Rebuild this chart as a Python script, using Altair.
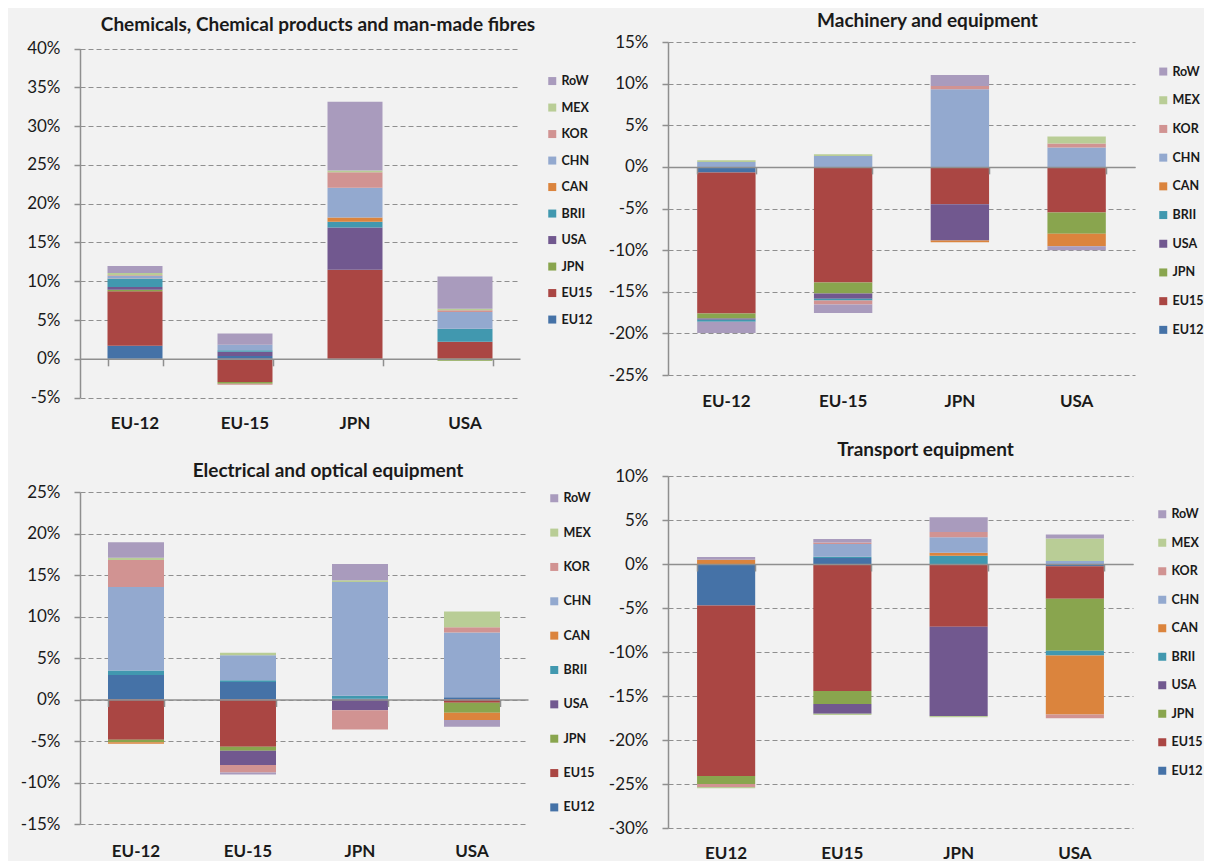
import altair as alt
import pandas as pd

SERIES = ["EU12", "EU15", "JPN", "USA", "BRII", "CAN", "CHN", "KOR", "MEX", "RoW"]
COLORS = ["#4572A7", "#AA4643", "#89A54E", "#71588F", "#4198AF",
          "#DB843D", "#93A9CF", "#D19392", "#B9CD96", "#A99BBD"]

DEST_A = ["EU-12", "EU-15", "JPN", "USA"]
DEST_B = ["EU12", "EU15", "JPN", "USA"]

# values in % (order of SERIES), one list per destination bar
chem_eu12 = [1.7, 7.0, 0.2, 0.35, 1.07, 0.05, 0.3, 0.1, 0.3, 0.9]
chem_eu15 = [0.35, -3.0, -0.2, 0.55, 0.2, 0.0, 0.7, -0.15, 0.0, 1.45]
chem_jpn = [0.0, 11.47, 0.0, 5.47, 0.73, 0.56, 3.84, 1.98, 0.22, 8.88]
chem_usa = [0.0, 2.2, -0.25, 0.0, 1.68, 0.0, 2.16, 0.22, 0.2, 4.14]

mach_eu12 = [-0.68, -16.92, -0.6, -0.16, -0.24, 0.0, 0.6, 0.0, 0.2, -1.36]
mach_eu15 = [0.0, -13.88, -1.32, -0.64, -0.2, 0.0, 1.32, -0.48, 0.2, -1.04]
mach_jpn = [0.0, -4.48, 0.0, -4.36, 0.0, -0.2, 9.32, 0.4, 0.0, 1.32]
mach_usa = [0.0, -5.48, -2.56, 0.0, 0.0, -1.48, 2.32, 0.48, 0.84, -0.48]

elec_eu12 = [2.96, -4.84, -0.32, 0.0, 0.52, -0.16, 10.08, 3.24, 0.28, 1.88]
elec_eu15 = [2.12, -5.68, -0.48, -1.72, 0.2, 0.0, 3.0, -0.92, 0.32, -0.24]
elec_jpn = [0.1, 0.0, 0.0, -1.29, 0.34, 0.0, 13.73, -2.33, 0.2, 1.97]
elec_usa = [0.28, -0.4, -1.2, 0.0, 0.0, -0.88, 7.79, 0.64, 1.89, -0.8]

tran_eu12 = [-4.73, -19.36, -0.91, 0.0, 0.0, 0.49, 0.0, -0.34, -0.15, 0.3]
tran_eu15 = [0.68, -14.43, -1.48, -1.1, 0.15, 0.0, 1.43, 0.19, -0.15, 0.38]
tran_jpn = [0.0, -7.12, 0.0, -10.15, 0.94, 0.34, 1.77, 0.6, -0.15, 1.66]
tran_usa = [-0.25, -3.7, -5.91, 0.0, -0.53, -6.7, 0.34, -0.45, 2.57, 0.45]

GRID = "#8f8f8f"
TEXT = "#1a1a1a"
BG = "#F2F2F2"
FONT = "Lato"


def panel(title, dests, rows, ymin, ymax, w, h, t_off, t_dx, min_ext,
          lx, ly, rpad, xlab_pad=18, top_pad=0.0):
    recs = []
    for d, vals in zip(dests, rows):
        for i, (s, v) in enumerate(zip(SERIES, vals)):
            recs.append({"dest": d, "series": s, "ord": i, "value": v})
    df = pd.DataFrame(recs)
    ticks = list(range(ymin, ymax + 1, 5))
    view_h = h + top_pad
    xscale = alt.Scale(domain=dests, paddingInner=0.5, paddingOuter=0.25)
    yscale = alt.Scale(domain=[ymin, ymax], nice=False, zero=False,
                       range=[view_h, top_pad])

    bars = alt.Chart(df).mark_bar().encode(
        x=alt.X("dest:N", scale=xscale,
                axis=alt.Axis(title=None, labelAngle=0, domain=False, ticks=False,
                              tickSize=0, labelPadding=xlab_pad, labelFontSize=17,
                              labelFontWeight="bold", labelColor=TEXT, labelFont=FONT,
                              grid=False)),
        y=alt.Y("value:Q", stack="zero", scale=yscale,
                axis=alt.Axis(title=None, values=ticks, labelExpr="datum.value + '%'",
                              grid=True, gridDash=[5, 3], gridColor=GRID, gridWidth=1.2,
                              domainColor=GRID, domainWidth=1.5, tickColor=GRID,
                              tickSize=6, tickWidth=1.5, labelPadding=14,
                              labelFontSize=17, labelColor=TEXT, labelFont=FONT,
                              minExtent=min_ext)),
        color=alt.Color("series:N",
                        scale=alt.Scale(domain=SERIES[::-1], range=COLORS[::-1]),
                        legend=alt.Legend(title=None, orient="none", legendX=lx, legendY=ly,
                                          symbolType="square", symbolSize=64,
                                          symbolStrokeWidth=0, labelFontSize=12.5,
                                          labelFontWeight="bold", labelColor=TEXT,
                                          labelFont=FONT, rowPadding=rpad, labelOffset=3,
                                          padding=0)),
        order=alt.Order("ord:Q", sort="ascending"),
    )

    zoff = h * (0 - ymin) / (ymax - ymin)
    zero = alt.Chart(pd.DataFrame({"dest": dests})).mark_point(opacity=0).encode(
        x=alt.X("dest:N", scale=xscale,
                axis=alt.Axis(orient="bottom", offset=-zoff, labels=False, title=None,
                              domain=True, domainColor=GRID, domainWidth=1.5,
                              ticks=True, tickBand="extent", tickSize=7, tickColor=GRID,
                              tickWidth=1.5, grid=False, zindex=1)),
    )

    return alt.layer(bars, zero).resolve_axis(x="independent").properties(
        width=w, height=view_h,
        title=alt.TitleParams(text=title, fontSize=19, fontWeight="bold", color=TEXT,
                              font=FONT, offset=t_off, dx=t_dx, anchor="middle",
                              frame="group"),
    )


p1 = panel("Chemicals, Chemical products and man-made fibres", DEST_A,
           [chem_eu12, chem_eu15, chem_jpn, chem_usa], -5, 40,
           440, 349, 4.5, 18, 72, 466, 32.8, 13.5, top_pad=6.6)
p2 = panel("Machinery and equipment", DEST_A,
           [mach_eu12, mach_eu15, mach_jpn, mach_usa], -25, 15,
           467, 333, 2.2, 26, 60, 489, 23.3, 15.7)
p3 = panel("Electrical and optical equipment", DEST_A,
           [elec_eu12, elec_eu15, elec_jpn, elec_usa], -15, 25,
           448, 332, 2.4, 24, 61, 468, 0, 21.35, xlab_pad=19)
p4 = panel("Transport equipment", DEST_B,
           [tran_eu12, tran_eu15, tran_jpn, tran_usa], -30, 10,
           465, 352, 7.5, 25, 60, 488, 32, 15.5, xlab_pad=17)

left = alt.vconcat(p1, p3, spacing=29).resolve_scale(color="independent").resolve_legend(color="independent")
right = alt.vconcat(p2, p4, spacing=31).resolve_scale(color="independent").resolve_legend(color="independent")

chart = alt.hconcat(left, right, spacing=13).resolve_scale(
    color="independent").resolve_legend(color="independent").properties(
    padding={"left": 0, "top": 3, "right": 0, "bottom": 0}
).configure(font=FONT, background=BG).configure_view(stroke=None)

chart.save("out.html", embed_options={"renderer": "svg", "actions": False})
